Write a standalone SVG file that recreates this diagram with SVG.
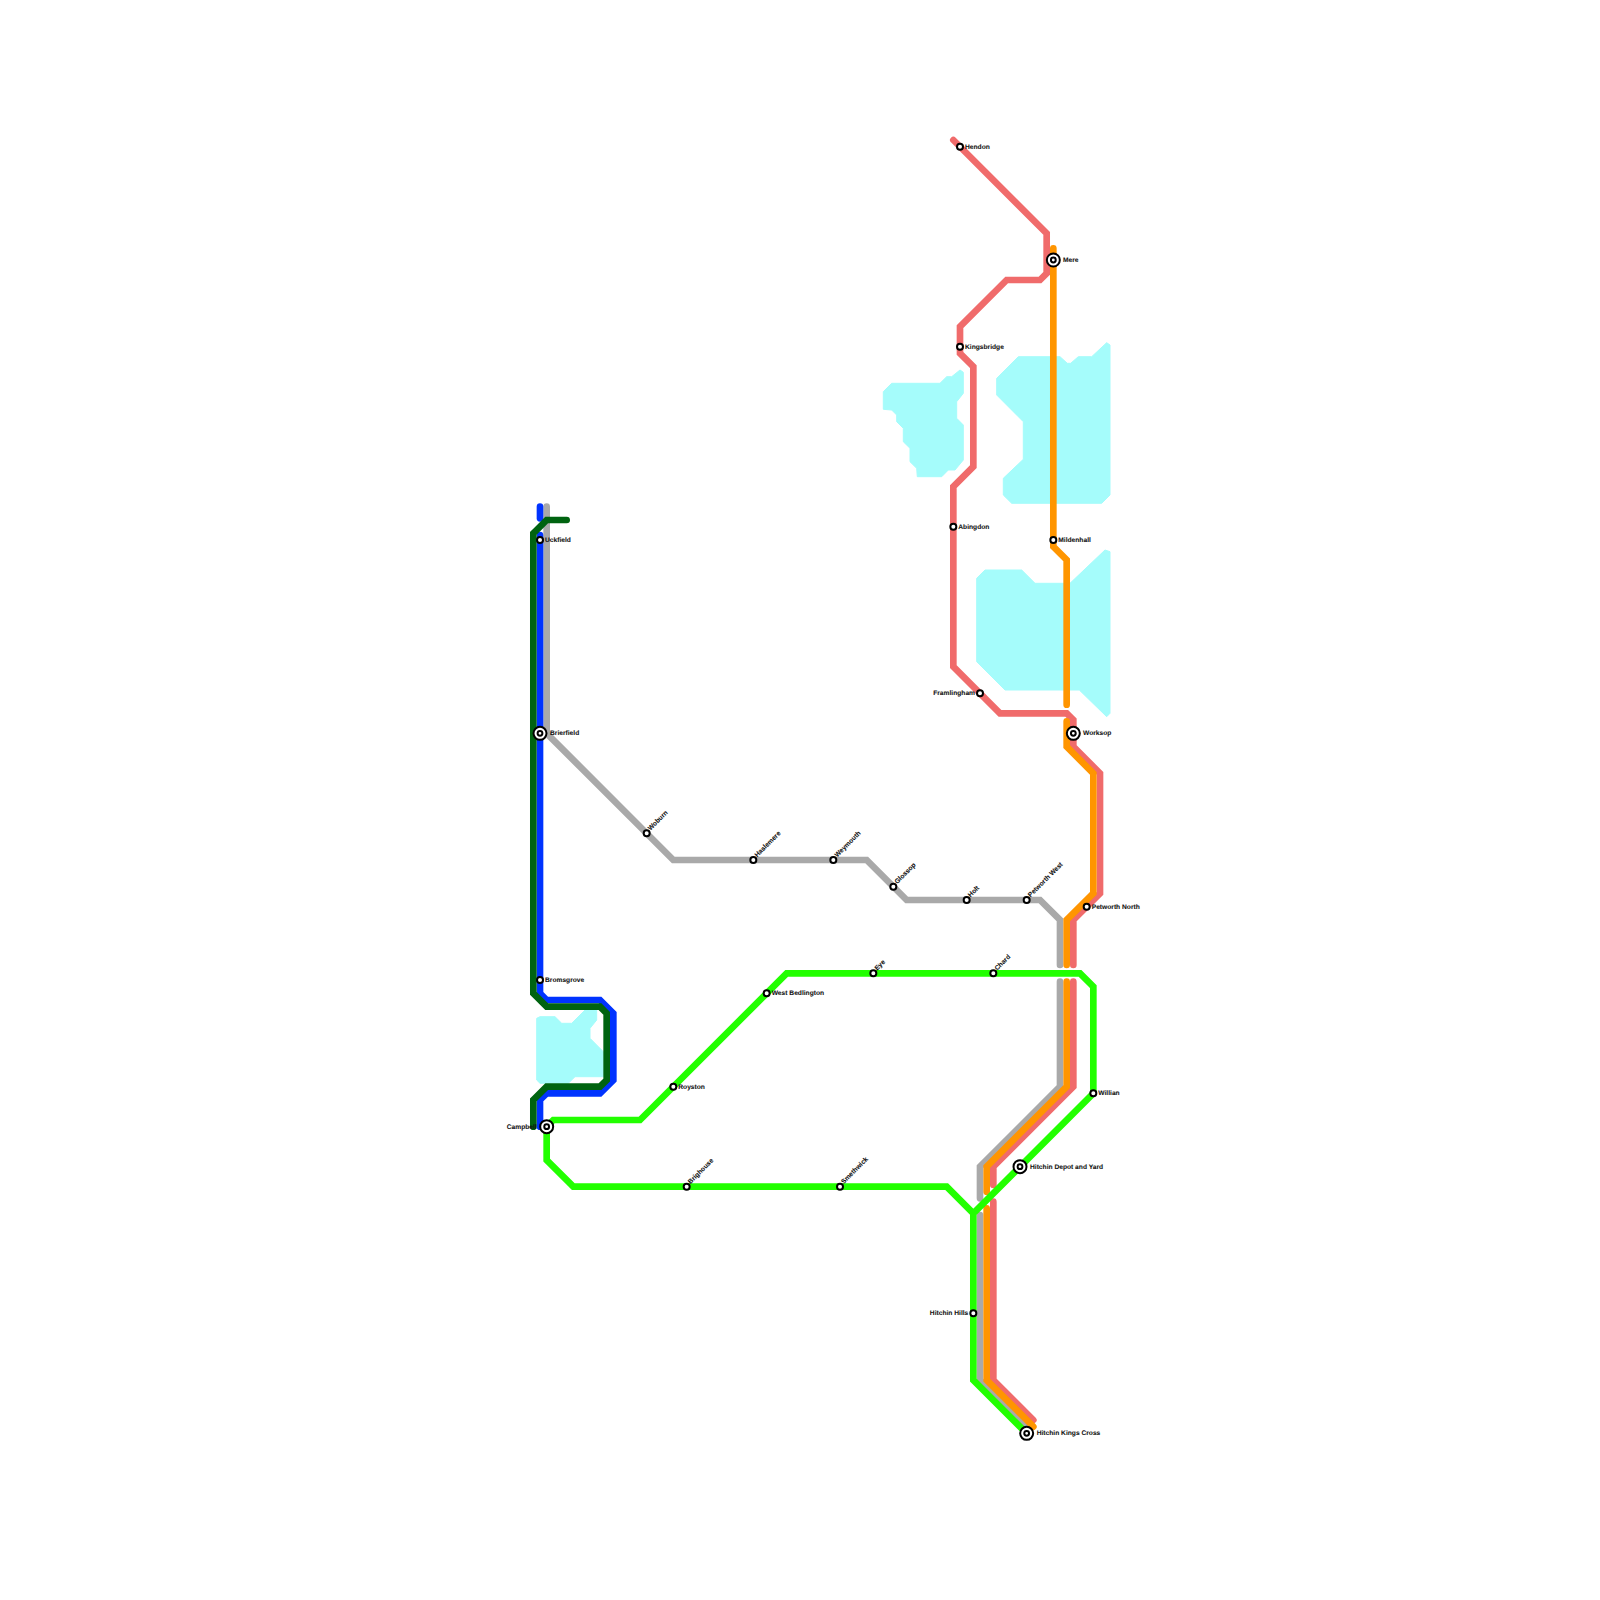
<svg xmlns="http://www.w3.org/2000/svg" width="1600" height="1600" viewBox="0 0 1600 1600">
<style>
.w{fill:#a5fcfb;stroke:#a5fcfb;stroke-width:1;stroke-linejoin:round}
.l{fill:none;stroke-width:6.67;stroke-linecap:round;stroke-linejoin:miter}
.red{stroke:#f06b6b}.or{stroke:#ff9500}.gr{stroke:#a9a9a9}.bl{stroke:#0033ff}.dg{stroke:#006310}.li{stroke:#22ff00}
.s{fill:#fff;stroke:#000;stroke-width:2}
.x{fill:#fff;stroke:#000;stroke-width:2}
text{font-family:"Liberation Sans",Arial,sans-serif;font-size:6.67px;font-weight:bold;fill:#111;stroke:#111;stroke-width:.08;text-rendering:geometricPrecision}
.e{text-anchor:end}
</style>
<g id="water">
<polygon class="w" points="883.3,391.7 891.7,383.3 940,383.3 946.7,376.7 951.7,376.7 960,370 963.3,372.3 963.3,393.3 956.7,401.7 956.7,418.3 963.3,425 963.3,460 955,470 948.3,470 941.7,476.7 917.3,476.7 916.7,468.3 910,461.7 910,448.3 903.3,441.7 903.3,428.3 896.7,421.7 896.7,415 891.7,410 883.3,409.3"/>
<polygon class="w" points="996.7,378.3 1018.3,356.7 1060,356.7 1067.3,363.3 1070.7,363.3 1078.3,356.7 1091.7,356.7 1106.7,342.7 1110,345 1110,495 1101.7,503.3 1011.7,503.3 1003.3,495 1003.3,478.3 1023.3,459.3 1023.3,421.7 996.7,395"/>
<polygon class="w" points="976.7,578.3 985,570 1021.7,570 1035,583.3 1070,583.3 1105,550 1110,551.7 1110,713.3 1106.7,716.7 1079.3,690 1005,690 976.7,661.7"/>
<polygon class="w" points="536.7,1018.3 540,1016.7 555,1016.7 561.7,1023.3 571.7,1023.3 585,1010 596.7,1010 596.7,1020 590,1028.3 590,1038.3 603.3,1051.7 603.3,1076.7 575,1076.7 568.3,1083.3 540,1083.3 536.7,1080"/>
</g>
<g id="connectors">
<path class="l gr" d="M546.67 506.67V733.33L673.33 860H866.67L906.67 900H1040L1060 920V965"/>
<path class="l gr" d="M1060 981.67V1086.67L980 1166.67V1198.33"/>
<path class="l gr" d="M980 1215V1380L1026.67 1426.67"/>
<path class="l bl" d="M540 506.67V518.33"/>
<path class="l bl" d="M540 535V993.33L546.67 1000H600L613.33 1013.33V1080L600 1093.33H546.67L540 1100V1126.67"/>
<path class="l dg" d="M566.67 520H546.67L533.33 533.33V993.33L546.67 1006.67H600L606.67 1013.33V1080L600 1086.67H546.67L533.33 1100V1126.67"/>
<path class="l red" d="M953.33 140L1046.67 233.33V273.33L1040 280H1006.67L960 326.67V353.33L973.33 366.67V466.67L953.33 486.67V666.67L1000 713.33H1066.67L1073.33 720V746.67L1100 773.33V893.33L1073.33 920V965"/>
<path class="l red" d="M1073.33 981.67V1086.67L993.33 1166.67V1185"/>
<path class="l red" d="M993.33 1201.67V1380L1033.33 1420"/>
<path class="l or" d="M1053.33 248.33V546.67L1066.67 560V704.67"/>
<path class="l or" d="M1066.67 721.33V746.67L1093.33 773.33V893.33L1066.67 920V965"/>
<path class="l or" d="M1066.67 981.67V1086.67L986.67 1166.67V1191.67"/>
<path class="l or" d="M986.67 1208.33V1380L1033.33 1426.67"/>
<path class="l li" style="stroke-linecap:butt" d="M546.67 1126.67L553.33 1120H640L786.67 973.33H1080L1093.33 986.67V1093.33L973.33 1213.33V1380L1026.67 1433.33"/>
<path class="l li" style="stroke-linecap:butt" d="M546.67 1126.67V1160L573.33 1186.67H946.67L973.33 1213.33"/>
</g>
<g id="st-hendon"><circle class="s" cx="960" cy="146.67" r="3"/><text x="965" y="148.7">Hendon</text></g>
<g id="st-mere"><circle class="x" cx="1053.33" cy="260" r="6.5"/><circle class="x" cx="1053.33" cy="260" r="2.4"/><text x="1063" y="262">Mere</text></g>
<g id="st-kingsbridge"><circle class="s" cx="960" cy="346.67" r="3"/><text x="965" y="348.7">Kingsbridge</text></g>
<g id="st-abingdon"><circle class="s" cx="953.33" cy="526.67" r="3"/><text x="958.3" y="528.7">Abingdon</text></g>
<g id="st-mildenhall"><circle class="s" cx="1053.33" cy="540" r="3"/><text x="1058.3" y="542">Mildenhall</text></g>
<g id="st-framlingham"><circle class="s" cx="980" cy="693.33" r="3"/><text class="e" x="975" y="695.3">Framlingham</text></g>
<g id="st-worksop"><circle class="x" cx="1073.33" cy="733.33" r="6.5"/><circle class="x" cx="1073.33" cy="733.33" r="2.4"/><text x="1083" y="735.3">Worksop</text></g>
<g id="st-petworth-north"><circle class="s" cx="1086.67" cy="906.67" r="3"/><text x="1091.7" y="908.7">Petworth North</text></g>
<g id="st-petworth-west"><circle class="s" cx="1026.67" cy="900" r="3"/><text transform="translate(1030.5 897.5) rotate(-45)">Petworth West</text></g>
<g id="st-holt"><circle class="s" cx="966.67" cy="900" r="3"/><text transform="translate(970.5 897.5) rotate(-45)">Holt</text></g>
<g id="st-glossop"><circle class="s" cx="893.33" cy="886.67" r="3"/><text transform="translate(897.2 884.2) rotate(-45)">Glossop</text></g>
<g id="st-weymouth"><circle class="s" cx="833.33" cy="860" r="3"/><text transform="translate(837.2 857.5) rotate(-45)">Weymouth</text></g>
<g id="st-haslemere"><circle class="s" cx="753.33" cy="860" r="3"/><text transform="translate(757.2 857.5) rotate(-45)">Haslemere</text></g>
<g id="st-woburn"><circle class="s" cx="646.67" cy="833.33" r="3"/><text transform="translate(650.5 830.8) rotate(-45)">Woburn</text></g>
<g id="st-chard"><circle class="s" cx="993.33" cy="973.33" r="3"/><text transform="translate(997.2 970.8) rotate(-45)">Chard</text></g>
<g id="st-eye"><circle class="s" cx="873.33" cy="973.33" r="3"/><text transform="translate(877.2 970.8) rotate(-45)">Eye</text></g>
<g id="st-west-bedlington"><circle class="s" cx="766.67" cy="993.33" r="3"/><text x="771.7" y="995.3">West Bedlington</text></g>
<g id="st-royston"><circle class="s" cx="673.33" cy="1086.67" r="3"/><text x="678.3" y="1088.7">Royston</text></g>
<g id="st-willian"><circle class="s" cx="1093.33" cy="1093.33" r="3"/><text x="1098.3" y="1095.3">Willian</text></g>
<g id="st-hitchin-depot"><circle class="x" cx="1020" cy="1166.67" r="6.5"/><circle class="x" cx="1020" cy="1166.67" r="2.4"/><text x="1030" y="1168.7">Hitchin Depot and Yard</text></g>
<g id="st-brighouse"><circle class="s" cx="686.67" cy="1186.67" r="3"/><text transform="translate(690.5 1184.2) rotate(-45)">Brighouse</text></g>
<g id="st-smethwick"><circle class="s" cx="840" cy="1186.67" r="3"/><text transform="translate(843.8 1184.2) rotate(-45)">Smethwick</text></g>
<g id="st-hitchin-hills"><circle class="s" cx="973.33" cy="1313.33" r="3"/><text class="e" x="968.3" y="1315.3">Hitchin Hills</text></g>
<g id="st-hitchin-kings-cross"><circle class="x" cx="1026.67" cy="1433.33" r="6.5"/><circle class="x" cx="1026.67" cy="1433.33" r="2.4"/><text x="1036.7" y="1435.3">Hitchin Kings Cross</text></g>
<g id="st-uckfield"><circle class="s" cx="540" cy="540" r="3"/><text x="545" y="542">Uckfield</text></g>
<g id="st-brierfield"><circle class="x" cx="540" cy="733.33" r="6.5"/><circle class="x" cx="540" cy="733.33" r="2.4"/><text x="550" y="735.3">Brierfield</text></g>
<g id="st-bromsgrove"><circle class="s" cx="540" cy="980" r="3"/><text x="545" y="982">Bromsgrove</text></g>
<g id="st-campbell"><text class="e" x="536.7" y="1128.7">Campbell</text><circle class="x" cx="546.67" cy="1126.67" r="6.5"/><circle class="x" cx="546.67" cy="1126.67" r="2.4"/></g>
</svg>
